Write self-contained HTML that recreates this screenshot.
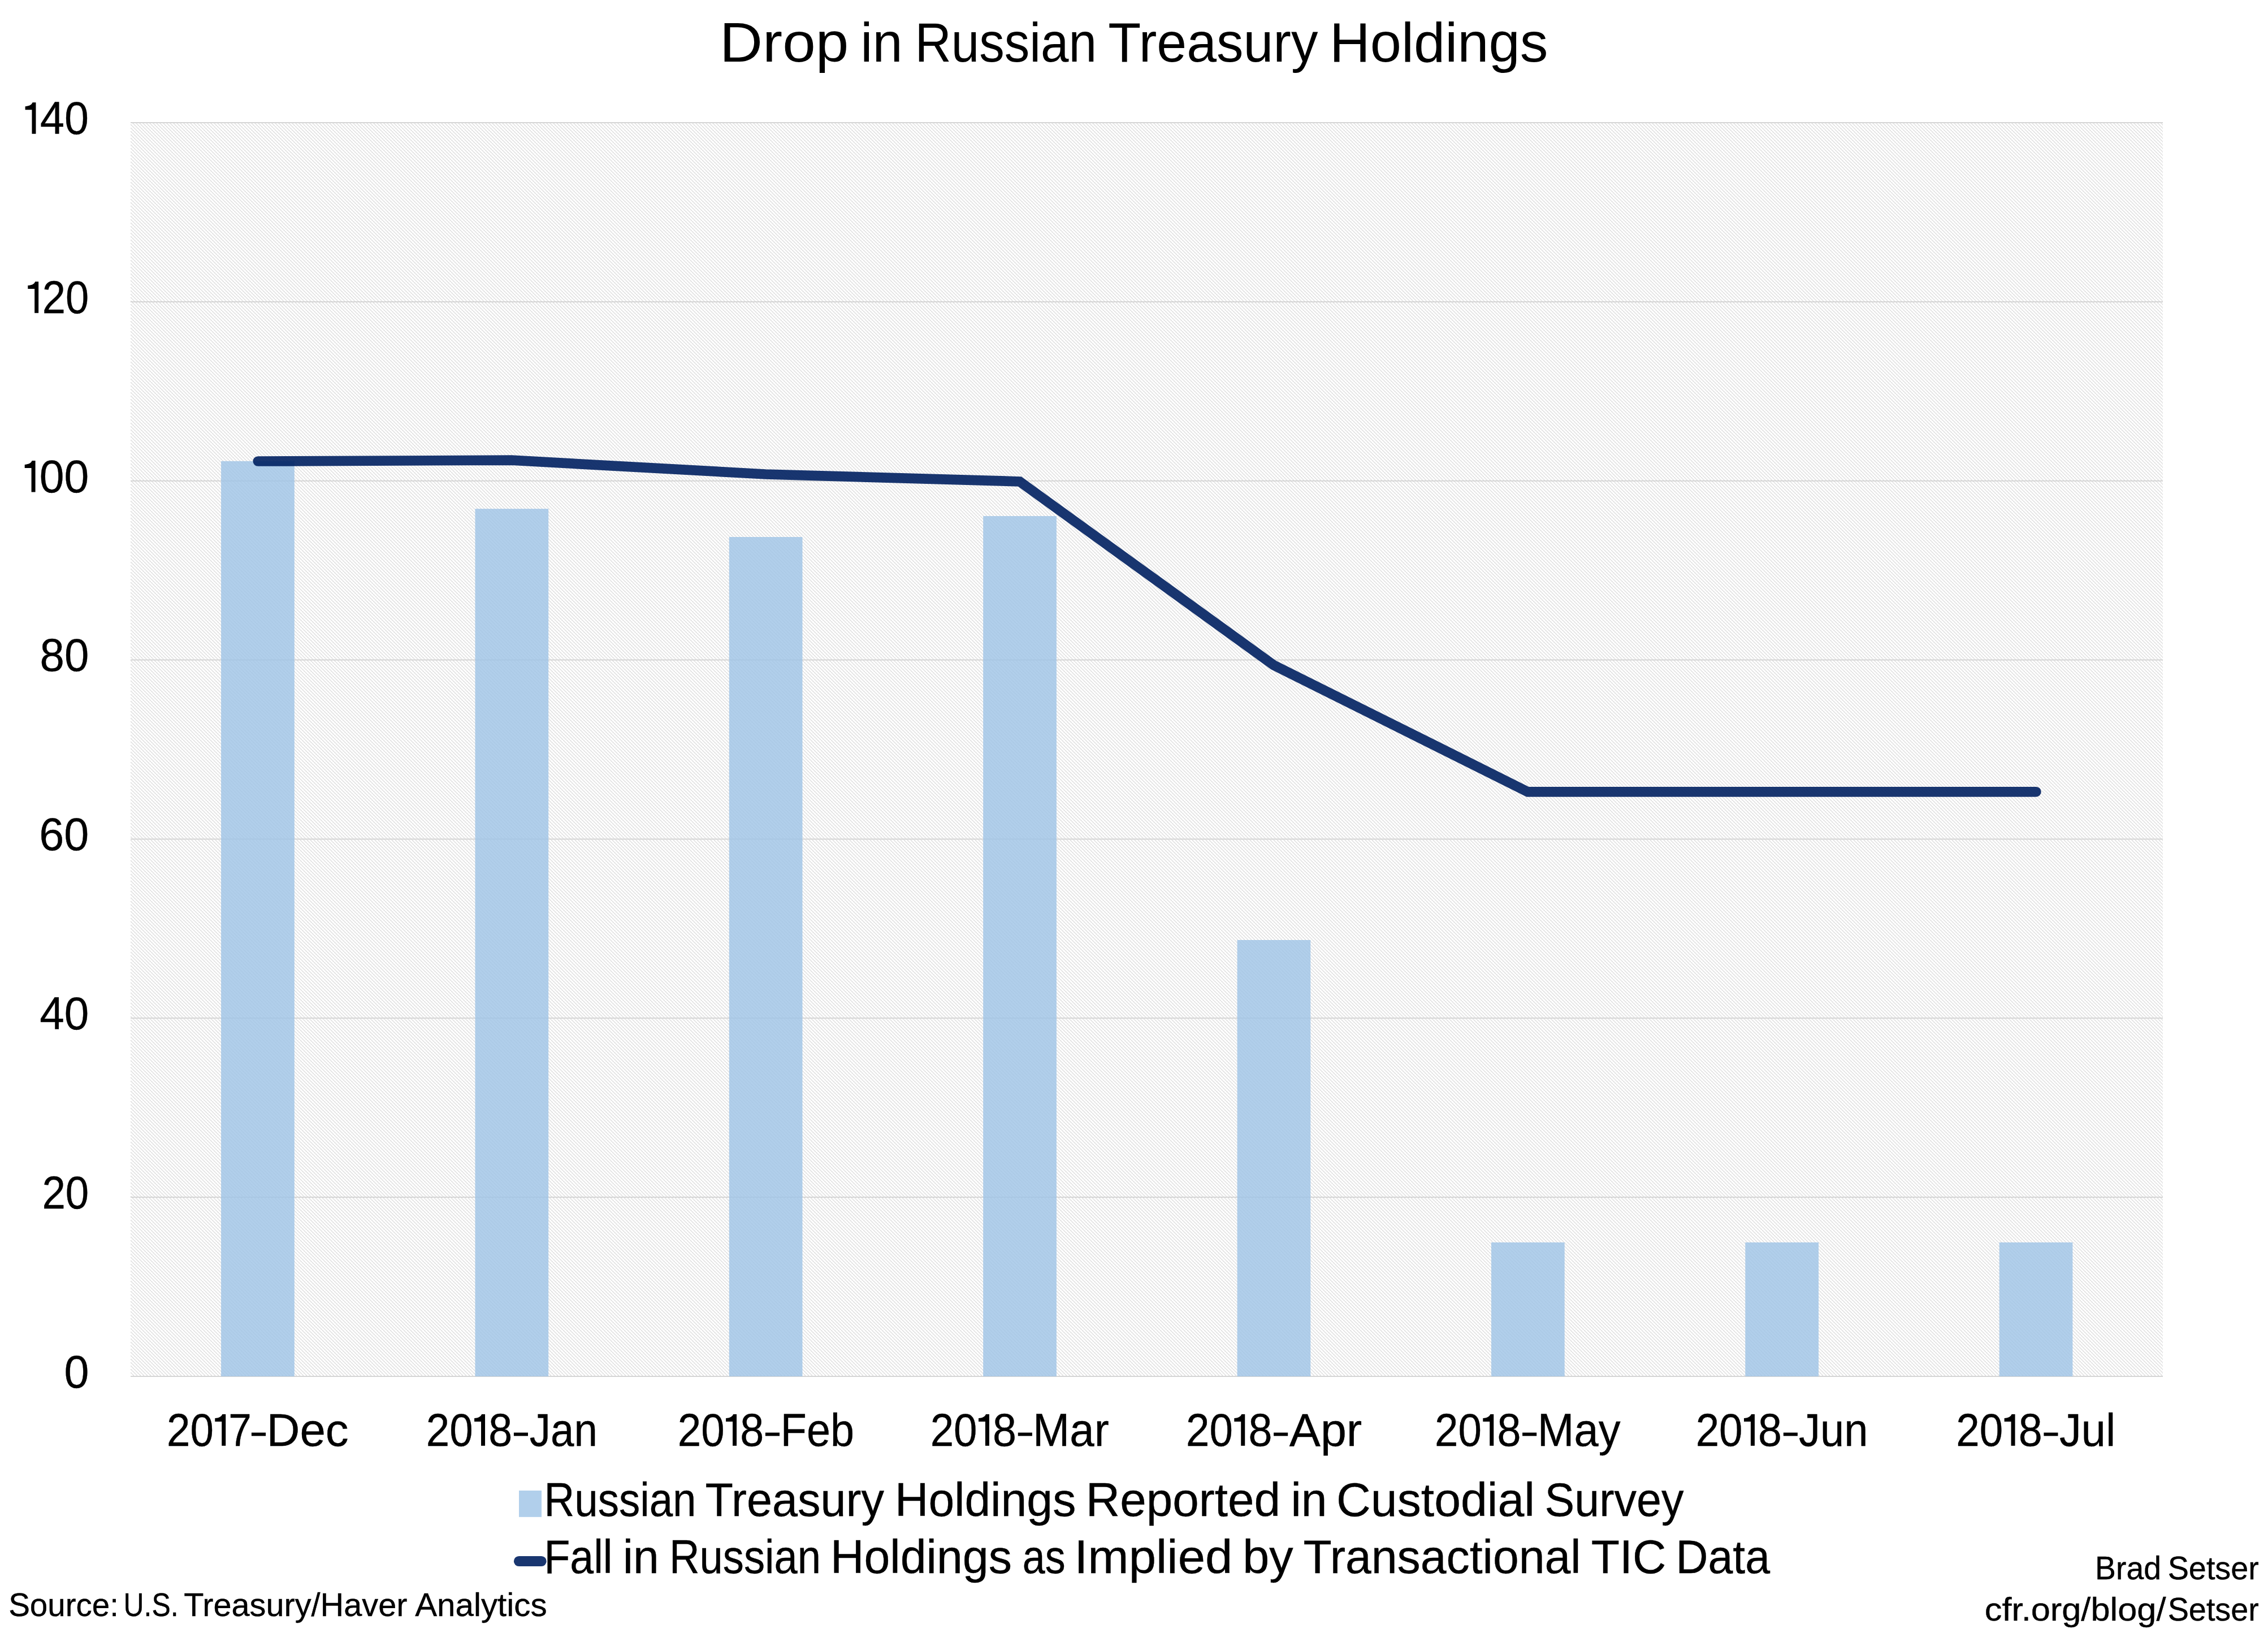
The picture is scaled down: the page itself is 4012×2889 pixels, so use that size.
<!DOCTYPE html>
<html lang="en"><head><meta charset="utf-8"><title>Drop in Russian Treasury Holdings</title>
<style>html,body{margin:0;padding:0;background:#fff;}body{width:4012px;height:2889px;overflow:hidden;}svg{display:block;}text{font-family:"Liberation Sans", sans-serif;fill:#000;stroke:#000;stroke-width:0.4;}</style></head><body>
<svg width="4012" height="2889" viewBox="0 0 4012 2889">
<defs><pattern id="hatch" width="6" height="6" patternUnits="userSpaceOnUse" patternTransform="translate(3,4)"><g fill="#d4d4d4"><rect x="0" y="0" width="1.5" height="1.5"/><rect x="1.5" y="1.5" width="1.5" height="1.5"/><rect x="3" y="3" width="1.5" height="1.5"/><rect x="4.5" y="4.5" width="1.5" height="1.5"/></g></pattern><path id="one" d="M0,-42.75 L0,-48.75 C6,-49.2 10.8,-50.5 13,-55.65 L18.9,-55.65 L18.9,0 L11.9,0 L11.9,-42.75 Z"/></defs>
<rect x="0" y="0" width="4012" height="2889" fill="#ffffff"/>
<desc>Combination chart. Y axis 0 to 140 in steps of 20. Categories: 2017-Dec, 2018-Jan, 2018-Feb, 2018-Mar, 2018-Apr, 2018-May, 2018-Jun, 2018-Jul. Bars: Russian Treasury Holdings Reported in Custodial Survey. Line: Fall in Russian Holdings as Implied by Transactional TIC Data.</desc>
<!-- plot area -->
<rect x="231.0" y="217.0" width="3595.0" height="2218.0" fill="url(#hatch)"/>
<line x1="231.0" x2="3826.0" y1="2435.0" y2="2435.0" stroke="#d5d5d5" stroke-width="2"/>
<line x1="231.0" x2="3826.0" y1="2118.1" y2="2118.1" stroke="#d5d5d5" stroke-width="2"/>
<line x1="231.0" x2="3826.0" y1="1801.3" y2="1801.3" stroke="#d5d5d5" stroke-width="2"/>
<line x1="231.0" x2="3826.0" y1="1484.4" y2="1484.4" stroke="#d5d5d5" stroke-width="2"/>
<line x1="231.0" x2="3826.0" y1="1167.6" y2="1167.6" stroke="#d5d5d5" stroke-width="2"/>
<line x1="231.0" x2="3826.0" y1="850.7" y2="850.7" stroke="#d5d5d5" stroke-width="2"/>
<line x1="231.0" x2="3826.0" y1="533.9" y2="533.9" stroke="#d5d5d5" stroke-width="2"/>
<line x1="231.0" x2="3826.0" y1="217.0" y2="217.0" stroke="#d5d5d5" stroke-width="2"/>
<!-- bars -->
<rect x="391.1" y="815.8" width="129.7" height="1619.2" fill="#9dc3e6" fill-opacity="0.8"/>
<rect x="840.5" y="900.1" width="129.7" height="1534.9" fill="#9dc3e6" fill-opacity="0.8"/>
<rect x="1289.8" y="950.0" width="129.7" height="1485.0" fill="#9dc3e6" fill-opacity="0.8"/>
<rect x="1739.2" y="913.0" width="129.7" height="1522.0" fill="#9dc3e6" fill-opacity="0.8"/>
<rect x="2188.6" y="1663.0" width="129.7" height="772.0" fill="#9dc3e6" fill-opacity="0.8"/>
<rect x="2638.0" y="2198.0" width="129.7" height="237.0" fill="#9dc3e6" fill-opacity="0.8"/>
<rect x="3087.3" y="2198.0" width="129.7" height="237.0" fill="#9dc3e6" fill-opacity="0.8"/>
<rect x="3536.7" y="2198.0" width="129.7" height="237.0" fill="#9dc3e6" fill-opacity="0.8"/>
<!-- line -->
<polyline points="456.3,816.0 905.1,814.2 1354.4,839.0 1803.8,851.9 2253.0,1176.6 2702.5,1400.8 3152.0,1400.8 3601.9,1400.8" fill="none" stroke="#002060" stroke-opacity="0.9" stroke-width="17.7" stroke-linecap="round" stroke-linejoin="miter"/>
<!-- legend markers -->
<rect x="918" y="2637" width="40" height="46.8" fill="#b1cfeb"/>
<line x1="918" x2="957.6" y1="2762" y2="2762" stroke="#002060" stroke-opacity="0.9" stroke-width="18.2" stroke-linecap="round"/>
<!-- text -->
<text transform="translate(1273.04,108.70) scale(1.0744,1)" font-size="98" style="stroke:none">Drop</text>
<text transform="translate(1522.30,108.70) scale(0.9747,1)" font-size="98" style="stroke:none">in</text>
<text transform="translate(1618.38,108.70) scale(0.9088,1)" font-size="98" style="stroke:none">Russian</text>
<text transform="translate(1960.14,108.70) scale(0.9698,1)" font-size="98" style="stroke:none">Treasury</text>
<text transform="translate(2352.03,108.70) scale(1.0135,1)" font-size="98" style="stroke:none">Holdings</text>
<text transform="translate(962.44,2681.60) scale(0.8868,1)" font-size="84">Russian</text>
<text transform="translate(1247.55,2681.60) scale(0.9637,1)" font-size="84">Treasury</text>
<text transform="translate(1583.02,2681.60) scale(0.9799,1)" font-size="84">Holdings</text>
<text transform="translate(1920.81,2681.60) scale(0.9961,1)" font-size="84">Reported</text>
<text transform="translate(2283.57,2681.60) scale(0.9768,1)" font-size="84">in</text>
<text transform="translate(2364.01,2681.60) scale(1.0024,1)" font-size="84">Custodial</text>
<text transform="translate(2732.62,2681.60) scale(0.9401,1)" font-size="84">Survey</text>
<text transform="translate(962.38,2783.00) scale(0.8955,1)" font-size="84">Fall</text>
<text transform="translate(1101.77,2783.00) scale(0.9768,1)" font-size="84">in</text>
<text transform="translate(1184.06,2783.00) scale(0.8830,1)" font-size="84">Russian</text>
<text transform="translate(1468.91,2783.00) scale(0.9821,1)" font-size="84">Holdings</text>
<text transform="translate(1808.73,2783.00) scale(0.8552,1)" font-size="84">as</text>
<text transform="translate(1900.20,2783.00) scale(1.0345,1)" font-size="84">Implied</text>
<text transform="translate(2198.25,2783.00) scale(1.0084,1)" font-size="84">by</text>
<text transform="translate(2305.42,2783.00) scale(0.9801,1)" font-size="84">Transactional</text>
<text transform="translate(2814.82,2783.00) scale(0.9796,1)" font-size="84">TIC</text>
<text transform="translate(2964.49,2783.00) scale(0.9392,1)" font-size="84">Data</text>
<text transform="translate(15.15,2859.00) scale(0.9747,1)" font-size="58">Source:</text>
<text transform="translate(218.54,2859.00) scale(0.8608,1)" font-size="58">U.S.</text>
<text transform="translate(325.15,2859.00) scale(0.9947,1)" font-size="58">Treasury/Haver</text>
<text transform="translate(734.14,2859.00) scale(1.0061,1)" font-size="58">Analytics</text>
<text transform="translate(3706.04,2793.90) scale(0.9718,1)" font-size="57">Brad</text>
<text transform="translate(3834.68,2793.90) scale(0.9784,1)" font-size="57">Setser</text>
<text transform="translate(3510.85,2866.80) scale(1.0766,1)" font-size="57">cfr.org/blog/</text>
<text transform="translate(3834.68,2866.80) scale(0.9784,1)" font-size="57">Setser</text>
<text transform="translate(294.93,2557.80) scale(0.9208,1)" font-size="81">20</text>
<text transform="translate(404.34,2557.80) scale(0.9002,1)" font-size="81">7</text>
<text transform="translate(471.48,2557.80) scale(1.0079,1)" font-size="81">Dec</text>
<text transform="translate(753.73,2557.80) scale(0.9208,1)" font-size="81">20</text>
<text transform="translate(864.19,2557.80) scale(0.9333,1)" font-size="81">8</text>
<text transform="translate(936.81,2557.80) scale(0.9189,1)" font-size="81">Jan</text>
<text transform="translate(1198.73,2557.80) scale(0.9208,1)" font-size="81">20</text>
<text transform="translate(1309.19,2557.80) scale(0.9333,1)" font-size="81">8</text>
<text transform="translate(1380.86,2557.80) scale(0.9329,1)" font-size="81">Feb</text>
<text transform="translate(1645.63,2557.80) scale(0.9208,1)" font-size="81">20</text>
<text transform="translate(1756.09,2557.80) scale(0.9333,1)" font-size="81">8</text>
<text transform="translate(1827.05,2557.80) scale(0.9664,1)" font-size="81">Mar</text>
<text transform="translate(2097.93,2557.80) scale(0.9208,1)" font-size="81">20</text>
<text transform="translate(2208.39,2557.80) scale(0.9333,1)" font-size="81">8</text>
<text transform="translate(2280.83,2557.80) scale(1.0198,1)" font-size="81">Apr</text>
<text transform="translate(2537.93,2557.80) scale(0.9208,1)" font-size="81">20</text>
<text transform="translate(2648.39,2557.80) scale(0.9333,1)" font-size="81">8</text>
<text transform="translate(2719.80,2557.80) scale(0.9586,1)" font-size="81">May</text>
<text transform="translate(2999.63,2557.80) scale(0.9208,1)" font-size="81">20</text>
<text transform="translate(3110.09,2557.80) scale(0.9333,1)" font-size="81">8</text>
<text transform="translate(3182.09,2557.80) scale(0.9374,1)" font-size="81">Jun</text>
<text transform="translate(3460.23,2557.80) scale(0.9208,1)" font-size="81">20</text>
<text transform="translate(3570.69,2557.80) scale(0.9333,1)" font-size="81">8</text>
<text transform="translate(3642.96,2557.80) scale(0.9584,1)" font-size="81">Jul</text>
<text transform="translate(71.11,236.80) scale(0.9544,1)" font-size="81">40</text>
<text transform="translate(74.76,553.66) scale(0.9148,1)" font-size="81">20</text>
<text transform="translate(69.80,870.51) scale(0.9717,1)" font-size="81">00</text>
<text transform="translate(70.59,1187.37) scale(0.9626,1)" font-size="81">80</text>
<text transform="translate(69.37,1504.23) scale(0.9766,1)" font-size="81">60</text>
<text transform="translate(70.29,1821.09) scale(0.9661,1)" font-size="81">40</text>
<text transform="translate(74.44,2137.94) scale(0.9184,1)" font-size="81">20</text>
<text transform="translate(113.39,2454.80) scale(0.9750,1)" font-size="81">0</text>
<use href="#one" transform="translate(380.30,2557.80) scale(1.0027)"/>
<use href="#one" transform="translate(839.10,2557.80) scale(1.0027)"/>
<use href="#one" transform="translate(1284.10,2557.80) scale(1.0027)"/>
<use href="#one" transform="translate(1731.00,2557.80) scale(1.0027)"/>
<use href="#one" transform="translate(2183.30,2557.80) scale(1.0027)"/>
<use href="#one" transform="translate(2623.30,2557.80) scale(1.0027)"/>
<use href="#one" transform="translate(3085.00,2557.80) scale(1.0027)"/>
<use href="#one" transform="translate(3545.60,2557.80) scale(1.0027)"/>
<use href="#one" transform="translate(44.60,236.80) scale(0.9973)"/>
<use href="#one" transform="translate(49.30,553.66) scale(0.9973)"/>
<use href="#one" transform="translate(43.70,870.51) scale(0.9973)"/>
<rect x="444.9" y="2534.5" width="25.2" height="5.9" fill="#000"/>
<rect x="908.9" y="2534.5" width="25.1" height="5.9" fill="#000"/>
<rect x="1353.9" y="2534.5" width="25.1" height="5.9" fill="#000"/>
<rect x="1800.8" y="2534.5" width="25.1" height="5.9" fill="#000"/>
<rect x="2253.1" y="2534.5" width="25.1" height="5.9" fill="#000"/>
<rect x="2693.1" y="2534.5" width="25.1" height="5.9" fill="#000"/>
<rect x="3154.8" y="2534.5" width="25.1" height="5.9" fill="#000"/>
<rect x="3615.4" y="2534.5" width="25.1" height="5.9" fill="#000"/>
</svg></body></html>
